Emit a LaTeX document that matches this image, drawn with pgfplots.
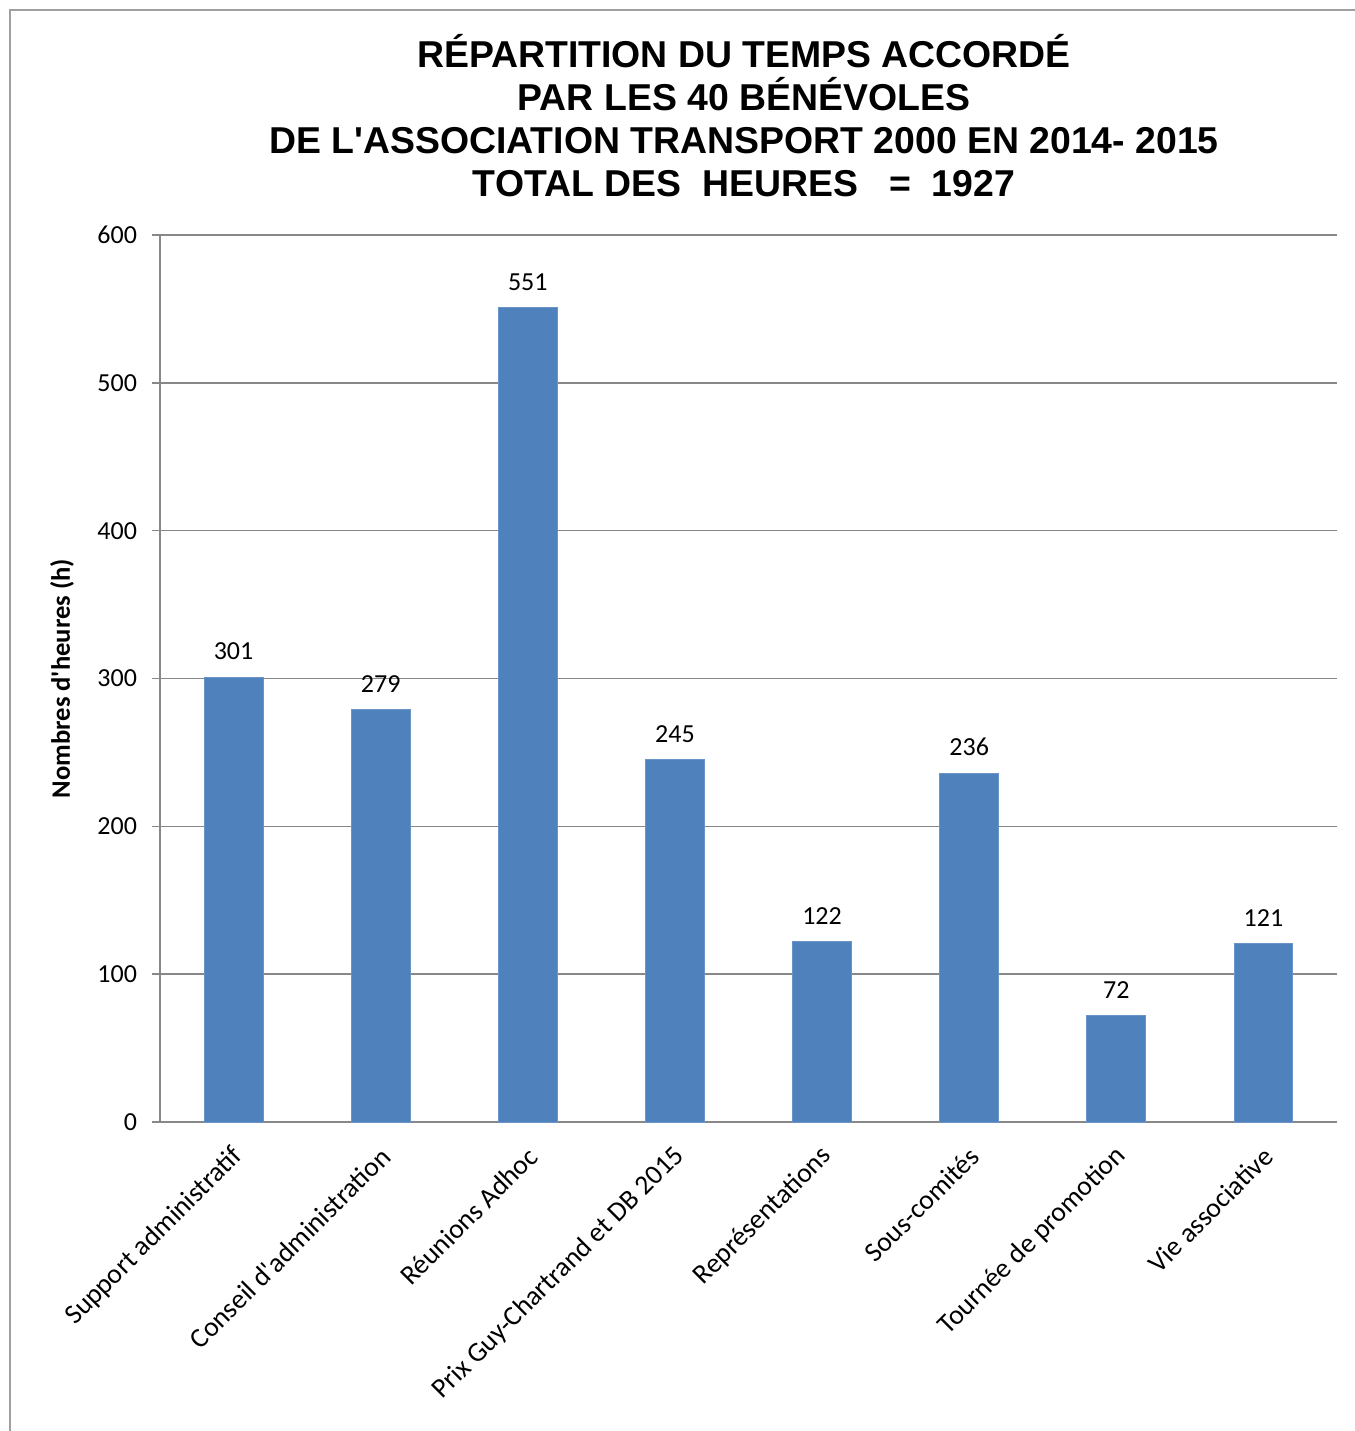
\documentclass[border=0pt]{standalone}
\usepackage{pgfplots}
\pgfplotsset{compat=1.18}
\usepackage{fontspec}
\setmainfont{Carlito}[Ligatures=TeXOff]
\newfontfamily\titlefont{Liberation Sans}[Ligatures=TeXOff]
\definecolor{barblue}{HTML}{4F81BD}
\definecolor{gridgray}{HTML}{888888}
\begin{document}
\begin{tikzpicture}[x=1pt,y=1pt]
\useasboundingbox (-80,-154.5) rectangle (597.5,561);
\draw[gridgray!80, line width=1pt] (-75,-154.5) -- (-75,556) -- (597.5,556);
\begin{axis}[
  at={(0,0)}, anchor=south west,
  scale only axis, width=588.5pt, height=443.5pt,
  xmin=-0.5, xmax=7.5, ymin=0, ymax=600,
  axis lines=left, axis line style={-, gridgray, line width=0.8pt},
  ytick={0,100,...,600},
  ymajorgrids, major grid style={gridgray, line width=0.8pt},
  tick align=outside,
  major tick length=4pt,
  y tick style={gridgray, line width=0.8pt},
  xtick={0,...,7},
  x tick style={draw=none},
  minor xtick={-0.5,0.5,...,7.5},
  minor tick length=4pt,
  minor x tick style={gridgray, line width=0.8pt},
  xticklabels={Support administratif, Conseil d'administration, Réunions Adhoc, Prix Guy-Chartrand et DB 2015, Représentations, Sous-comités, Tournée de promotion, Vie associative},
  xticklabel style={xshift=5pt, yshift=-8.5pt, rotate=45, anchor=east, font=\fontsize{13.8}{15}\selectfont},
  yticklabel style={font=\fontsize{13}{15}\selectfont, xshift=-4pt},
  /pgf/number format/assume math mode=true,
  ylabel={Nombres d'heures (h)},
  every axis y label/.style={at={(rel axis cs:0,0.5)}, xshift=-49pt, rotate=90, anchor=center, font=\bfseries\fontsize{13.3}{15}\selectfont},
  ybar, bar width=0.4,
  nodes near coords,
  every node near coord/.append style={font=\fontsize{13}{15}\selectfont, black, yshift=5pt},
  clip=false,
]
\addplot[fill=barblue, draw=barblue!85!white] coordinates {(0,301) (1,279) (2,551) (3,245) (4,122) (5,236) (6,72) (7,121)};
\end{axis}
\node[align=center, font=\titlefont\bfseries\fontsize{18.7}{21.5}\selectfont] at (292,503.25)
 {RÉPARTITION DU TEMPS ACCORDÉ\\PAR LES 40 BÉNÉVOLES\\DE L'ASSOCIATION TRANSPORT 2000 EN 2014- 2015\\TOTAL DES\ \ HEURES\ \ \ =\ \ 1927};
\end{tikzpicture}
\end{document}
